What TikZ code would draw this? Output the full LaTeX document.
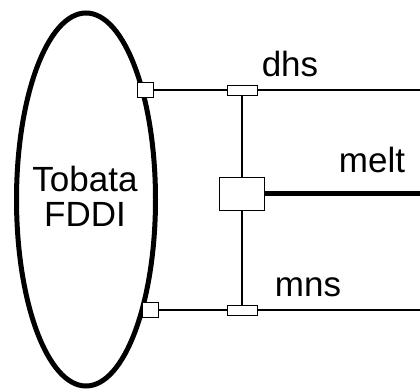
\documentclass[tikz,border=0pt]{standalone}
\usepackage{fontspec}
\setmainfont{Liberation Sans}
\usepackage{tikz}
\usetikzlibrary{shapes.geometric}

\begin{document}
\begin{tikzpicture}[x=1pt,y=1pt,
          big/.style={font=\fontsize{35}{35}\selectfont,inner sep=0pt},
          port/.style={draw,fill=white,line width=0.8pt,inner sep=0pt,
            minimum width=16pt,minimum height=15pt},
          tap/.style={draw,fill=white,line width=0.8pt,inner sep=0pt,
            minimum width=30pt,minimum height=10pt},
          link/.style={line width=1.2pt}]
          %\draw[very thin,gray] (0,0) grid[step=10] (420,390);
          \useasboundingbox (0,0) rectangle (420,390);
          \node[draw,ellipse,line width=5pt,minimum width=139pt,
            minimum height=373pt,inner sep=0pt] (fddi) at (86,190.5) {};
          \node[big,align=center] (fddiname) at (85,193.5) {Tobata\\FDDI};
          \node[port] (tport) at (145,300) {};
          \node[port] (bport) at (150,80) {};
          \node[tap] (ttap) at (242,300) {};
          \node[tap] (btap) at (242,80) {};
          \node[draw,fill=white,line width=0.8pt,minimum width=45pt,
            minimum height=33pt,inner sep=0pt] (hub) at (242,196.5) {};
          \coordinate (dhsend) at (420,300);
          \coordinate (mnsend) at (420,80);
          \coordinate (meltend) at (420,196.5);
          \draw[link] (tport) -- (ttap);
          \draw[link] (ttap) -- (dhsend);
          \draw[link] (bport) -- (btap);
          \draw[link] (btap) -- (mnsend);
          \draw[link] (ttap) -- (hub);
          \draw[link] (hub) -- (btap);
          \draw[line width=5pt] (hub) -- (meltend);
          \node[big,anchor=base] (dhs) at (290,313) {dhs};
          \node[big,anchor=base] (melt) at (372,217) {melt};
          \node[big,anchor=base] (mns) at (308,93) {mns};
        \end{tikzpicture}
\end{document}
